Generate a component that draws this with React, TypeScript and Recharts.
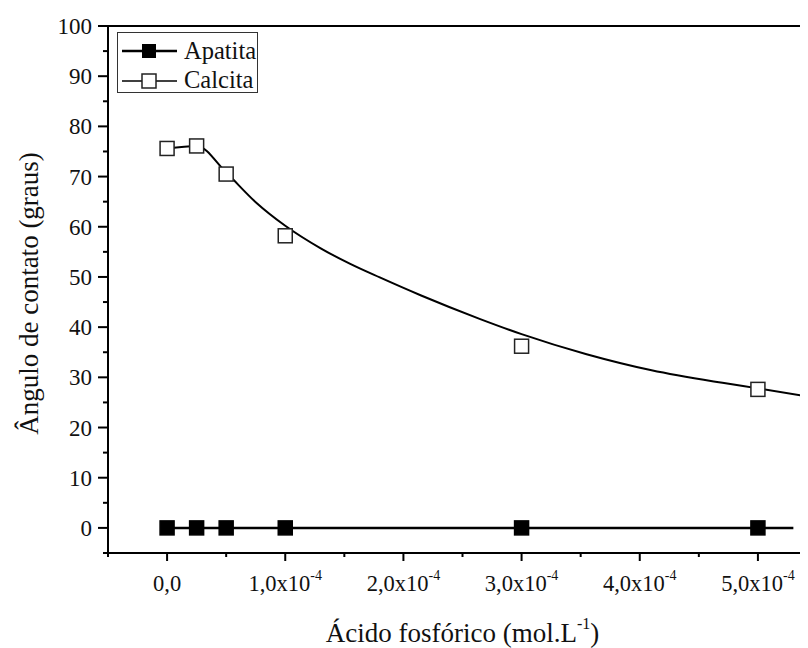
import React from 'react';
import {
  ComposedChart,
  Line,
  Scatter,
  XAxis,
  YAxis,
  ReferenceLine,
} from 'recharts';

// concentrations (mol/L) where angles were measured
const concentrations = [0, 0.25e-4, 0.5e-4, 1e-4, 3e-4, 5e-4];
const apatitaAngles = [0, 0, 0, 0, 0, 0];
const calcitaAngles = [75.6, 76.1, 70.5, 58.2, 36.2, 27.6];

// fitted curves
const apatitaFitX = [0, 5.3e-4];
const apatitaFitY = [0, 0];
const calcitaFitX = [0, 0.25e-4, 0.5e-4, 0.75e-4, 1.0e-4, 1.3e-4, 1.55e-4, 1.8e-4, 2.15e-4, 2.65e-4, 3.0e-4, 3.55e-4, 4.1e-4, 4.7e-4, 5.0e-4, 5.37e-4];
const calcitaFitY = [75.6, 76.1, 70.8, 64.9, 60.2, 55.7, 52.6, 49.9, 46.3, 41.6, 38.6, 34.6, 31.4, 28.9, 27.8, 26.4];

const xTicks = [-0.5e-4, 0, 0.5e-4, 1e-4, 1.5e-4, 2e-4, 2.5e-4, 3e-4, 3.5e-4, 4e-4, 4.5e-4, 5e-4];
const xTickLabels = ['0,0', '1,0x10', '2,0x10', '3,0x10', '4,0x10', '5,0x10'];
const yTicks = [-5, 0, 5, 10, 15, 20, 25, 30, 35, 40, 45, 50, 55, 60, 65, 70, 75, 80, 85, 90, 95, 100];

const FONT = 'Liberation Serif, DejaVu Serif, Times New Roman, serif';
const txt = { fontFamily: FONT };

const toPoints = (xs: number[], ys: number[]) => xs.map((x, i) => ({ x, y: ys[i] }));

const apatitaPoints = toPoints(concentrations, apatitaAngles);
const calcitaPoints = toPoints(concentrations, calcitaAngles);
const apatitaFit = toPoints(apatitaFitX, apatitaFitY);
const calcitaFit = toPoints(calcitaFitX, calcitaFitY);

const XTick = ({ x, y, payload }: any) => {
  const v = payload.value;
  const half = Math.round(v / 0.5e-4);
  const major = half % 2 === 0 && half >= 0;
  const idx = Math.round(v / 1e-4);
  return (
    <g>
      <line x1={x} x2={x} y1={y} y2={y + (major ? 8 : 4)} stroke="#000" strokeWidth={2} />
      {major && (
        <text x={x} y={y + 38} textAnchor="middle" style={txt} fontSize={22.5} fill="#111">
          {xTickLabels[idx]}
          {idx > 0 && (
            <tspan fontSize={14} dy={-11}>-4</tspan>
          )}
        </text>
      )}
    </g>
  );
};

const YTick = ({ x, y, payload }: any) => {
  const v = payload.value;
  const major = v % 10 === 0;
  return (
    <g>
      <line x1={x - (major ? 10 : 5)} x2={x} y1={y} y2={y} stroke="#000" strokeWidth={2} />
      {major && (
        <text x={x - 16} y={y + 8} textAnchor="end" style={txt} fontSize={23} fill="#111">
          {v}
        </text>
      )}
    </g>
  );
};

const Square = ({ cx, cy, filled }: any) => (
  <rect
    x={cx - 7}
    y={cy - 7}
    width={14}
    height={14}
    fill={filled ? '#000' : '#fff'}
    stroke={filled ? '#000' : '#222'}
    strokeWidth={1.5}
  />
);

const LegendBox = () => (
  <div
    style={{
      position: 'absolute',
      left: 109,
      top: 24,
      width: 139,
      height: 59,
      border: '1px solid #333',
      background: '#fff',
    }}
  >
    <svg width={139} height={59}>
      <line x1={4} x2={59} y1={18} y2={18} stroke="#000" strokeWidth={2.5} />
      <rect x={24} y={11} width={14} height={14} fill="#000" />
      <text x={66} y={26} style={txt} fontSize={24.5} fill="#111">Apatita</text>
      <line x1={4} x2={59} y1={48} y2={48} stroke="#000" strokeWidth={1.5} />
      <rect x={24} y={41} width={14} height={14} fill="#fff" stroke="#222" strokeWidth={1.5} />
      <text x={66} y={55} style={txt} fontSize={24.5} fill="#111">Calcita</text>
    </svg>
  </div>
);

export default function App() {
  return (
    <div style={{ position: 'relative', width: 800, height: 640, overflow: 'hidden', background: '#fff', fontFamily: FONT }}>
      <ComposedChart
        width={830}
        height={640}
        margin={{ top: 18, right: 21, left: 0, bottom: 0 }}
      >
        <XAxis
          dataKey="x"
          type="number"
          domain={[-0.5e-4, 5.5e-4]}
          ticks={xTicks}
          tick={<XTick />}
          tickLine={false}
          tickSize={0}
          tickMargin={0}
          interval={0}
          allowDataOverflow
          axisLine={{ stroke: '#000', strokeWidth: 2 }}
          height={95}
          label={({ viewBox }: any) => (
            <text
              x={viewBox.x + viewBox.width / 2}
              y={viewBox.y + 89}
              textAnchor="middle"
              style={txt}
              fontSize={27}
              fill="#111"
            >
              Ácido fosfórico (mol.L
              <tspan fontSize={16} dy={-13}>-1</tspan>
              <tspan dy={13}>)</tspan>
            </text>
          )}
        />
        <YAxis
          dataKey="y"
          type="number"
          domain={[-5, 100]}
          ticks={yTicks}
          tick={<YTick />}
          tickLine={false}
          tickSize={0}
          tickMargin={0}
          interval={0}
          allowDataOverflow
          axisLine={{ stroke: '#000', strokeWidth: 2 }}
          width={100}
          label={({ viewBox }: any) => {
            const cx = 24;
            const cy = viewBox.y + viewBox.height / 2 + 4;
            return (
              <text
                x={cx}
                y={cy}
                transform={`rotate(-90 ${cx} ${cy})`}
                textAnchor="middle"
                dominantBaseline="middle"
                style={txt}
                fontSize={27}
                fill="#111"
              >
                Ângulo de contato (graus)
              </text>
            );
          }}
        />
        <ReferenceLine y={100} stroke="#000" strokeWidth={2} />
        <ReferenceLine x={5.5e-4} stroke="#000" strokeWidth={2} />
        <Line
          data={apatitaFit}
          dataKey="y"
          type="linear"
          stroke="#000"
          strokeWidth={2.5}
          dot={false}
          activeDot={false}
          isAnimationActive={false}
        />
        <Line
          data={calcitaFit}
          dataKey="y"
          type="monotone"
          stroke="#000"
          strokeWidth={2}
          dot={false}
          activeDot={false}
          isAnimationActive={false}
        />
        <Scatter
          data={apatitaPoints}
          dataKey="y"
          shape={(p: any) => <Square cx={p.cx} cy={p.cy} filled />}
          isAnimationActive={false}
        />
        <Scatter
          data={calcitaPoints}
          dataKey="y"
          shape={(p: any) => <Square cx={p.cx} cy={p.cy} />}
          isAnimationActive={false}
        />
      </ComposedChart>
      <LegendBox />
    </div>
  );
}
